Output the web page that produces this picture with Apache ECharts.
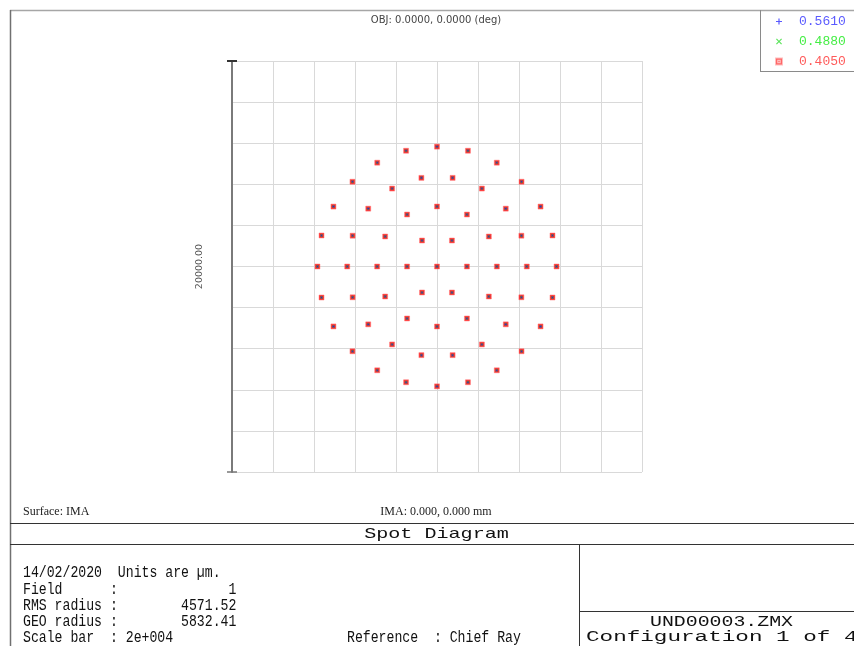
<!DOCTYPE html>
<html><head><meta charset="utf-8">
<script src="https://cdn.jsdelivr.net/npm/echarts@6/dist/echarts.min.js"></script>
<style>html,body{margin:0;padding:0;background:#fff}#c{width:854px;height:646px}</style>
</head><body><div id="c"></div>
<script>
// ---- data (micrometres, image plane, relative to chief ray) ----
const wavelengths = ['0.5610', '0.4880', '0.4050'];
const spotX = [0,
  1460, 730, -730, -1460, -730, 730,
  2920, 2529, 1460, 0, -1460, -2529, -2920, -2529, -1460, 0, 1460, 2529,
  4380, 4116, 3355, 2190, 761, -761, -2190, -3355, -4116, -4380, -4116, -3355, -2190, -761, 761, 2190, 3355, 4116,
  5832, 5633, 5051, 4124, 2916, 1509, 0, -1509, -2916, -4124, -5051, -5633, -5832, -5633, -5051, -4124, -2916, -1509, 0, 1509, 2916, 4124, 5051, 5633];
const spotY = [0,
  0, 1264, 1264, 0, -1264, -1264,
  0, 1460, 2529, 2920, 2529, 1460, 0, -1460, -2529, -2920, -2529, -1460,
  0, 1498, 2815, 3793, 4313, 4313, 3793, 2815, 1498, 0, -1498, -2815, -3793, -4313, -4313, -3793, -2815, -1498,
  0, 1509, 2916, 4124, 5051, 5633, 5832, 5633, 5051, 4124, 2916, 1509, 0, -1509, -2916, -4124, -5051, -5633, -5832, -5633, -5051, -4124, -2916, -1509];
const scaleBarLabel = '20000.00';
const headerText = 'OBJ: 0.0000, 0.0000 (deg)';
const surfaceText = 'Surface: IMA';
const imaText = 'IMA: 0.000, 0.000 mm';
const titleText = 'Spot Diagram';
const infoLines = [
  '14/02/2020  Units are µm.',
  'Field      :              1',
  'RMS radius :        4571.52',
  'GEO radius :        5832.41',
  'Scale bar  : 2e+004                      Reference  : Chief Ray'
];
const fileText = 'UND00003.ZMX';
const configText = 'Configuration 1 of 4';

// ---- build ----
const pts = spotX.map((x, i) => [x, spotY[i]]);
const PLUS = 'path://M2,0H3V2H5V3H3V5H2V3H0V2H2Z';
const CROSS = 'path://M0,0.7L0.7,0L2.5,1.8L4.3,0L5,0.7L3.2,2.5L5,4.3L4.3,5L2.5,3.2L0.7,5L0,4.3L1.8,2.5Z';
const SQ = 'path://M0,0H5V5H0ZM1,1V4H4V1ZM2,2H3V3H2Z';

function line(x1, y1, x2, y2, stroke, w) {
  return {type: 'line', silent: true, shape: {x1, y1, x2, y2}, style: {stroke, lineWidth: w || 1}, z: 10};
}
function txt(text, x, y, o) {
  return {type: 'text', x, y, scaleX: o.sx || 1, silent: true, z: 10,
    style: {text, fontFamily: o.ff, fontSize: o.fs, fill: o.c || '#111',
      align: o.a || 'left', textAlign: o.a || 'left', verticalAlign: 'middle', textVerticalAlign: 'middle'}};
}

const graphic = [
  line(10, 10.5, 854, 10.5, '#a6a6a6', 1.5),
  line(10.5, 10, 10.5, 646, '#707070', 1.5),
  line(760.5, 10, 760.5, 72, '#8a8a8a', 1),
  line(760, 71.5, 854, 71.5, '#8a8a8a', 1),
  line(10, 523.5, 854, 523.5, '#333', 1),
  line(10, 544.5, 854, 544.5, '#333', 1),
  line(579.5, 544, 579.5, 646, '#333', 1),
  line(579, 611.5, 854, 611.5, '#333', 1),
  line(227, 61, 237, 61, '#333', 2),
  line(227, 472, 237, 472, '#777', 1.5),
  txt(headerText, 436, 20, {ff: 'DejaVu Sans', fs: 10, c: '#444', a: 'center'}),
  txt(surfaceText, 23, 512, {ff: 'Liberation Serif', fs: 12, c: '#222'}),
  txt(imaText, 436, 512, {ff: 'Liberation Serif', fs: 12, c: '#222', a: 'center'}),
  txt(titleText, 436.5, 534, {ff: 'Liberation Mono', fs: 15, sx: 1.34, c: '#111', a: 'center'}),
  txt(fileText, 721.5, 622, {ff: 'Liberation Mono', fs: 14.5, sx: 1.37, c: '#111', a: 'center'}),
  txt(configText, 586, 637, {ff: 'Liberation Mono', fs: 14.5, sx: 1.56, c: '#111'})
];
const infoY = [573, 589.5, 605.5, 621.5, 637.5];
infoLines.forEach((s, i) => graphic.push(txt(s, 23, infoY[i], {ff: 'Liberation Mono', fs: 16, sx: 0.823, c: '#111'})));

const axisCommon = {
  type: 'value', min: -10000, max: 10000, interval: 2000,
  axisTick: {show: false}, axisLabel: {show: false},
  splitLine: {show: true, lineStyle: {color: '#d9d9d9', width: 1}}
};

const chart = echarts.init(document.getElementById('c'), null, {renderer: 'canvas'});
chart.setOption({
  backgroundColor: '#fff',
  animation: false,
  grid: {left: 232, top: 61, width: 410, height: 411},
  xAxis: Object.assign({}, axisCommon, {axisLine: {show: false, onZero: false}}),
  yAxis: Object.assign({}, axisCommon, {
    axisLine: {show: true, onZero: false, lineStyle: {color: '#7a7a7a', width: 2}},
    name: scaleBarLabel, nameLocation: 'middle', nameGap: 27, nameRotate: 90,
    nameTextStyle: {fontFamily: 'DejaVu Sans', fontSize: 9.5, color: '#555'}
  }),
  legend: {
    orient: 'vertical', left: 775, top: 15, padding: 0, itemWidth: 6, itemHeight: 6, itemGap: 7,
    selectedMode: false,
    textStyle: {fontFamily: 'Liberation Mono', fontSize: 13, padding: [0, 0, 0, 12]},
    data: [
      {name: wavelengths[0], icon: PLUS, itemStyle: {color: '#3c3cff'}, textStyle: {color: '#5a5aff'}},
      {name: wavelengths[1], icon: CROSS, itemStyle: {color: '#33dd33'}, textStyle: {color: '#44ee44'}},
      {name: wavelengths[2], icon: SQ, itemStyle: {color: '#ff3030'}, textStyle: {color: '#ff5a5a'}}
    ]
  },
  series: [
    {name: wavelengths[2], type: 'scatter', data: pts, symbol: 'rect', symbolSize: 5, z: 2,
      itemStyle: {color: '#ff0000', borderColor: 'rgba(255,120,120,0.6)', borderWidth: 1}},
    {name: wavelengths[1], type: 'scatter', data: pts, symbol: CROSS, symbolSize: 3, z: 3,
      itemStyle: {color: '#1e9e1e', opacity: 0.8}},
    {name: wavelengths[0], type: 'scatter', data: pts, symbol: PLUS, symbolSize: 3, z: 4,
      itemStyle: {color: '#2a2ad0', opacity: 0.85}}
  ],
  graphic: graphic
});
</script></body></html>
